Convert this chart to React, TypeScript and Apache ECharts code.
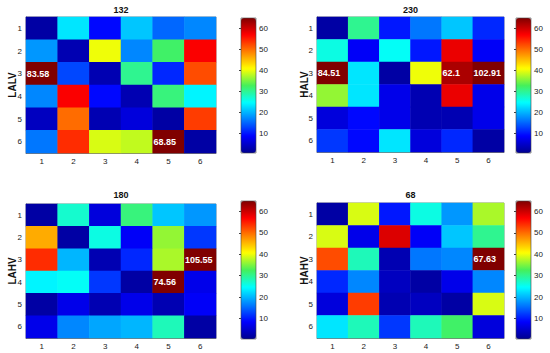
import React, { useEffect, useRef } from 'react';
import * as echarts from 'echarts';

const rowLabels = ['1', '2', '3', '4', '5', '6'];
const colLabels = ['1', '2', '3', '4', '5', '6'];
const panelTitles = ['132', '230', '180', '68'];
const panelNames = ['LALV', 'HALV', 'LAHV', 'HAHV'];
const colorbarTicks = [10, 20, 30, 40, 50, 60];
const colorMin = 0.5;
const colorMax = 64.8;
const labelThreshold = 60;

// rows 1..6 (top to bottom), columns 1..6
const lalv = [
  [2, 23, 9, 21, 15, 17],
  [18, 3, 40, 17, 32, 57],
  [83.58, 13, 3, 30, 11, 52],
  [17, 57, 9, 3, 31, 24],
  [4, 50, 3, 6, 2, 53],
  [16, 54, 39, 38, 68.85, 2],
];
const halv = [
  [2, 30, 10, 16, 21, 11],
  [26, 8, 25, 10, 58, 8],
  [84.51, 23, 2, 40, 62.1, 102.91],
  [36, 23, 7, 3, 58, 7],
  [6, 9, 7, 3, 3, 7],
  [12, 9, 23, 6, 11, 2],
];
const lahv = [
  [2, 27, 6, 31, 21, 18],
  [46, 2, 26, 8, 36, 12],
  [54, 20, 3, 11, 37, 105.55],
  [24, 25, 12, 2, 74.56, 7],
  [2, 7, 3, 7, 3, 8],
  [7, 17, 19, 20, 28, 2],
];
const hahv = [
  [2, 39, 10, 26, 18, 37],
  [39, 7, 59, 8, 21, 30],
  [52, 28, 3, 16, 17, 67.63],
  [11, 17, 4, 2, 7, 17],
  [6, 53, 3, 4, 2, 39],
  [23, 28, 12, 28, 32, 6],
];
const panels = [lalv, halv, lahv, hahv];

const jet = ['#00008F', '#0000FF', '#0080FF', '#00FFFF', '#46F05A', '#FFFF00', '#FF8000', '#FF0000', '#800000'];

const grids = [
  { left: 26, top: 17, width: 190, height: 136 },
  { left: 317, top: 17, width: 187, height: 135 },
  { left: 26, top: 204, width: 190, height: 134 },
  { left: 317, top: 203, width: 187, height: 135 },
];
const cbs = [
  { left: 241, top: 18, width: 15, height: 135 },
  { left: 516, top: 18, width: 15, height: 135 },
  { left: 241, top: 201, width: 15, height: 138 },
  { left: 516, top: 201, width: 15, height: 138 },
];
const titleY = [10, 10, 195, 195];
const nameX = [12, 304, 12, 304];

const FONT = 'Liberation Sans, Arial, sans-serif';

export default function App() {
  const ref = useRef<HTMLDivElement>(null);
  useEffect(() => {
    if (!ref.current) return;
    const chart = echarts.init(ref.current, undefined, { renderer: 'svg' });
    const grid: any[] = [];
    const xAxis: any[] = [];
    const yAxis: any[] = [];
    const cbGrid: any[] = [];
    const cbX: any[] = [];
    const cbY: any[] = [];
    const series: any[] = [];
    const visualMap: any[] = [];
    const graphic: any[] = [];
    panels.forEach((p, i) => {
      const g = grids[i];
      grid.push({ ...g, show: true, borderColor: '#444', borderWidth: 0.6, backgroundColor: 'transparent' });
      xAxis.push({
        type: 'category', gridIndex: i, data: colLabels,
        axisLine: { show: true, lineStyle: { color: '#444', width: 0.6 } },
        axisTick: { show: true, inside: true, alignWithLabel: true, length: 2, lineStyle: { color: '#444' } },
        axisLabel: { fontSize: 8, color: '#222', margin: 4, fontFamily: FONT },
        splitArea: { show: false }, splitLine: { show: false },
      });
      yAxis.push({
        type: 'category', gridIndex: i, data: rowLabels, inverse: true,
        axisLine: { show: true, lineStyle: { color: '#444', width: 0.6 } },
        axisTick: { show: true, inside: true, alignWithLabel: true, length: 2, lineStyle: { color: '#444' } },
        axisLabel: { fontSize: 8, color: '#222', margin: 4, fontFamily: FONT },
        splitArea: { show: false }, splitLine: { show: false },
      });
      const data: any[] = [];
      p.forEach((row, r) => row.forEach((v, c) => data.push([c, r, v])));
      series.push({
        type: 'heatmap', xAxisIndex: i, yAxisIndex: i, data,
        itemStyle: { borderWidth: 0 },
        emphasis: { disabled: true },
        label: {
          show: true, position: 'insideLeft', distance: 1,
          color: '#fff', fontSize: 9, fontWeight: 'bold', fontFamily: FONT,
          formatter: (prm: any) => (prm.value[2] > labelThreshold ? String(prm.value[2]) : ''),
        },
      });
      const cb = cbs[i];
      visualMap.push({
        type: 'continuous', seriesIndex: i, min: colorMin, max: colorMax,
        calculable: false, show: true, padding: 0,
        left: cb.left, top: cb.top, itemWidth: cb.width, itemHeight: cb.height,
        inRange: { color: jet },
        hoverLink: false,
      });
      cbGrid.push({ ...cb, show: true, borderColor: '#444', borderWidth: 0.6, backgroundColor: 'transparent', z: 10 });
      cbX.push({ type: 'value', gridIndex: 4 + i, min: 0, max: 1, show: false });
      cbY.push({
        type: 'value', gridIndex: 4 + i, min: colorMin, max: colorMax, position: 'right',
        axisLine: { show: false },
        splitLine: { show: false },
        axisTick: { show: true, inside: true, length: 2, customValues: colorbarTicks, lineStyle: { color: '#444' } },
        axisLabel: { show: true, customValues: colorbarTicks, fontSize: 8, color: '#222', margin: 3, fontFamily: FONT },
      });
      graphic.push({
        type: 'text', x: g.left + g.width / 2, y: titleY[i],
        style: { text: panelTitles[i], textAlign: 'center', textVerticalAlign: 'middle', fontSize: 9, fontWeight: 'bold', fill: '#111', fontFamily: FONT },
      });
      graphic.push({
        type: 'text', x: nameX[i], y: g.top + g.height / 2, rotation: Math.PI / 2,
        style: { text: panelNames[i], textAlign: 'center', textVerticalAlign: 'middle', fontSize: 10, fontWeight: 'bold', fill: '#111', fontFamily: FONT },
      });
    });
    chart.setOption({
      animation: false,
      backgroundColor: '#fff',
      grid: [...grid, ...cbGrid],
      xAxis: [...xAxis, ...cbX],
      yAxis: [...yAxis, ...cbY],
      series, visualMap, graphic,
    });
    return () => chart.dispose();
  }, []);
  return <div ref={ref} style={{ position: 'absolute', left: 0, top: 0, width: 550, height: 353 }} />;
}
